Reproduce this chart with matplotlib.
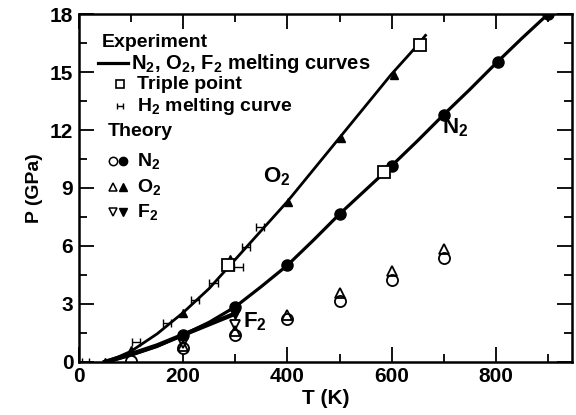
import matplotlib
matplotlib.use("Agg")
import matplotlib.pyplot as plt
from matplotlib.ticker import MultipleLocator

plt.rcParams['font.family'] = ['Liberation Sans', 'DejaVu Sans']
plt.rcParams['font.weight'] = 'bold'
plt.rcParams['mathtext.fontset'] = 'custom'
plt.rcParams['mathtext.rm'] = 'Liberation Sans:bold'
plt.rcParams['mathtext.bf'] = 'Liberation Sans:bold'
plt.rcParams['mathtext.it'] = 'Liberation Sans:bold'
plt.rcParams['mathtext.default'] = 'bf'

o2_curve_T = [50, 75, 100, 150, 200, 250, 300, 350, 400, 450, 500, 550, 600, 650, 665]
o2_curve_P = [0, 0.25, 0.55, 1.45, 2.55, 3.8, 5.3, 6.8, 8.3, 9.95, 11.6, 13.25, 14.9, 16.4, 16.9]
n2_curve_T = [55, 100, 150, 200, 250, 300, 350, 400, 450, 500, 550, 600, 650, 700, 750, 800, 850, 900]
n2_curve_P = [0, 0.35, 0.8, 1.4, 2.05, 2.85, 3.9, 5.0, 6.3, 7.65, 8.9, 10.15, 11.45, 12.8, 14.1, 15.45, 16.75, 18.0]
f2_curve_T = [50, 100, 150, 200, 250, 300]
f2_curve_P = [0, 0.4, 0.85, 1.4, 1.95, 2.5]

# Triple points
triple_T = [287, 585, 654]
triple_P = [5.0, 9.85, 16.4]

# H2 melting curve
h2_T = [13, 110, 169, 223, 258, 306, 321, 348]
h2_P = [0, 1.05, 2.0, 3.2, 4.1, 4.9, 5.95, 7.0]
h2_err = [7, 8, 8, 8, 8, 8, 8, 8]

# Theory
n2_open_T = [100, 200, 300, 400, 500, 600, 700]
n2_open_P = [0.05, 0.7, 1.4, 2.2, 3.15, 4.25, 5.4]
n2_fill_T = [200, 300, 400, 500, 600, 700, 805, 900]
n2_fill_P = [1.4, 2.85, 5.0, 7.65, 10.15, 12.8, 15.5, 18.0]
o2_open_T = [200, 300, 400, 500, 600, 700]
o2_open_P = [0.8, 1.6, 2.45, 3.55, 4.7, 5.85]
o2_fill_T = [50, 100, 200, 290, 402, 502, 604]
o2_fill_P = [0, 0.6, 2.55, 5.3, 8.3, 11.6, 14.85]
f2_open_T = [200, 300]
f2_open_P = [1.0, 1.9]
f2_fill_T = [300]
f2_fill_P = [2.5]

fig = plt.figure(figsize=(5.76, 4.15), dpi=100)
ax = fig.add_axes([0.137, 0.128, 0.856, 0.838])

k = 'black'
ax.plot(o2_curve_T, o2_curve_P, color=k, lw=2.0)
ax.plot(n2_curve_T, n2_curve_P, color=k, lw=2.3)
ax.plot(f2_curve_T, f2_curve_P, color=k, lw=3.2)

ax.errorbar(h2_T, h2_P, xerr=h2_err, fmt='none', ecolor=k, elinewidth=1.0, capsize=3, capthick=1.0)

ms = 8
ax.plot(n2_open_T, n2_open_P, 'o', mfc='white', mec=k, mew=1.3, ms=ms, ls='none')
ax.plot(o2_open_T, o2_open_P, '^', mfc='none', mec=k, mew=1.3, ms=7, ls='none')
ax.plot(f2_open_T, f2_open_P, 'v', mfc='none', mec=k, mew=1.3, ms=7, ls='none')
ax.plot(n2_fill_T, n2_fill_P, 'o', color=k, ms=ms, ls='none')
ax.plot(o2_fill_T, o2_fill_P, '^', color=k, ms=6, ls='none')
ax.plot(f2_fill_T, f2_fill_P, 'v', color=k, ms=7, ls='none')
ax.plot(triple_T, triple_P, 's', mfc='white', mec=k, mew=1.3, ms=8, ls='none')

ax.set_xlim(0, 946)
ax.set_ylim(0, 18)
ax.xaxis.set_major_locator(MultipleLocator(200))
ax.xaxis.set_minor_locator(MultipleLocator(100))
ax.yaxis.set_major_locator(MultipleLocator(3))
ax.yaxis.set_minor_locator(MultipleLocator(1.5))
ax.tick_params(which='both', direction='in', top=True, right=True, width=1.3, colors=k)
ax.tick_params(which='major', length=11, labelsize=15, pad=4)
ax.tick_params(which='minor', length=6)
for lab in ax.get_xticklabels() + ax.get_yticklabels():
    lab.set_fontweight('bold')
for s in ax.spines.values():
    s.set_linewidth(1.8)

ax.set_xlabel('T (K)', fontsize=15, fontweight='bold', labelpad=2)
ax.set_ylabel('P (GPa)', fontsize=14, fontweight='bold', labelpad=5)

# In-plot labels
ax.text(379, 9.6, 'O$_2$', fontsize=16, fontweight='bold', ha='center', va='center')
ax.text(721, 12.1, 'N$_2$', fontsize=16, fontweight='bold', ha='center', va='center')
ax.text(338, 2.1, 'F$_2$', fontsize=16, fontweight='bold', ha='center', va='center')

# Legend (drawn manually)
fs = 14
def px(xp, yp):
    return ((xp - 81) / 0.52, (362 - yp) / 19.33)

tx, ty = px(104, 42)
ax.text(tx, ty, 'Experiment', fontsize=fs, fontweight='bold', va='center')
x1, y1 = px(100, 63)
x2, _ = px(130, 63)
ax.plot([x1, x2], [y1, y1], color=k, lw=2.3)
tx, ty = px(133, 63)
ax.text(tx, ty, 'N$_2$, O$_2$, F$_2$ melting curves', fontsize=14.5, fontweight='bold', va='center')
mx, my = px(122, 84)
ax.plot([mx], [my], 's', mfc='white', mec=k, mew=1.2, ms=6)
tx, ty = px(139, 84)
ax.text(tx, ty, 'Triple point', fontsize=fs, fontweight='bold', va='center')
mx, my = px(122, 106)
ax.errorbar([mx], [my], xerr=[5], fmt='none', ecolor=k, elinewidth=1.0, capsize=2.5, capthick=1.0)
tx, ty = px(139, 106)
ax.text(tx, ty, 'H$_2$ melting curve', fontsize=fs, fontweight='bold', va='center')
tx, ty = px(110, 132)
ax.text(tx, ty, 'Theory', fontsize=fs, fontweight='bold', va='center')

rows = [(161, 'o', 'o', 'N$_2$'), (187, '^', '^', 'O$_2$'), (212, 'v', 'v', 'F$_2$')]
for yp, m1, m2, lab in rows:
    a, b = px(115, yp)
    ax.plot([a], [b], m1, mfc='none', mec=k, mew=1.1, ms=6)
    a, b = px(125, yp)
    ax.plot([a], [b], m2, color=k, ms=6)
    a, b = px(139, yp)
    ax.text(a, b, lab, fontsize=fs, fontweight='bold', va='center')

fig.savefig('out.png', dpi=100)
